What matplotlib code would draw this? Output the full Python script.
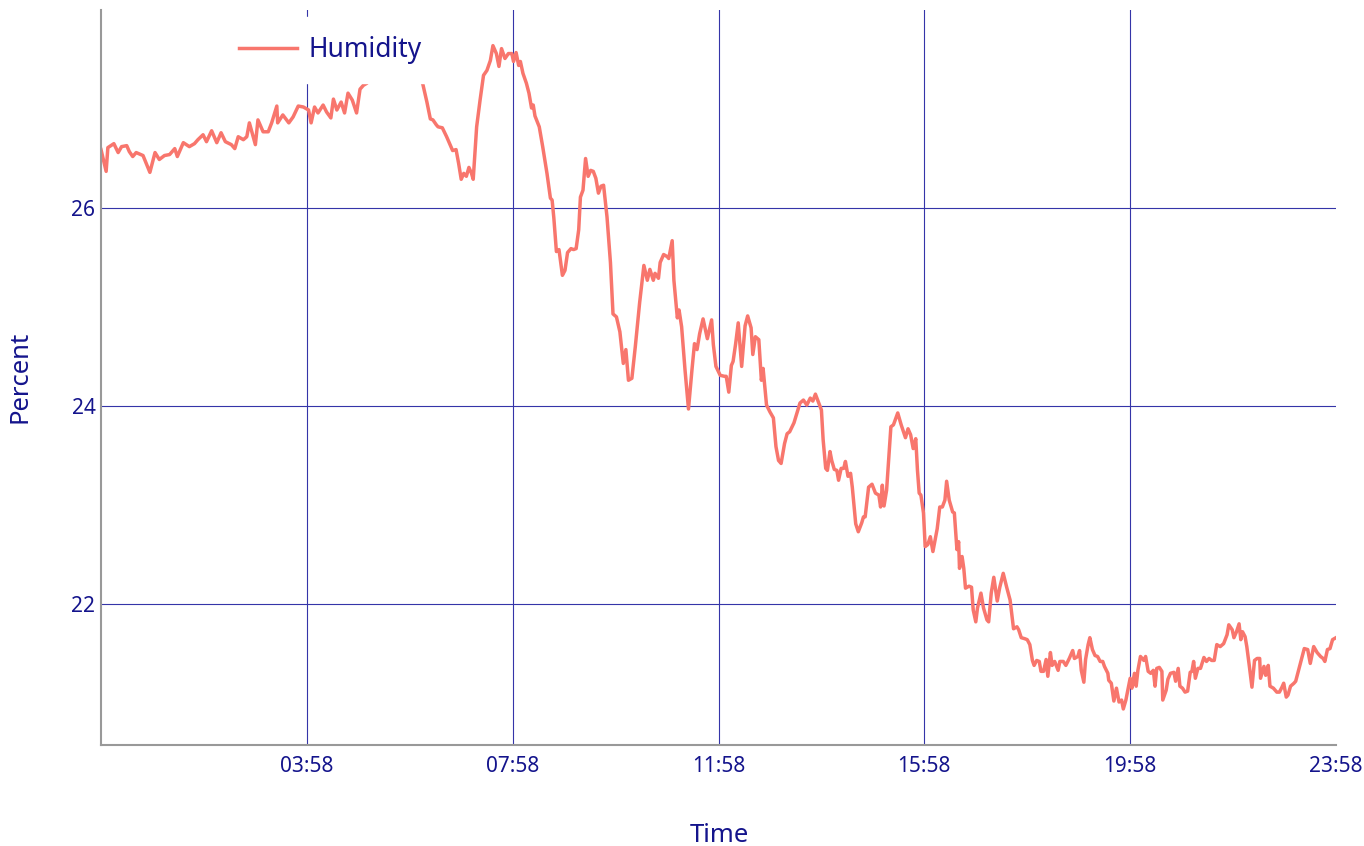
import pandas as pd
import matplotlib
matplotlib.use("Agg")
import matplotlib.pyplot as plt
import matplotlib.dates as mdates

plt.rcParams['font.family'] = ['Noto Sans', 'DejaVu Sans']

# minutes after 23:58 of the previous day
minutes = [
    0, 6, 8, 15, 20, 24, 30, 33, 37, 41,
    49, 57, 63, 68, 74, 80, 86, 89, 96, 103,
    109, 113, 119, 123, 129, 135, 140, 145, 152, 156,
    160, 166, 170, 173, 180, 183, 189, 195, 199, 205,
    206, 212, 219, 224, 230, 236, 242, 245, 249, 253,
    259, 263, 268, 271, 275, 280, 284, 288, 293, 298,
    302, 306, 310, 319, 337, 355, 366, 375, 380, 384,
    387, 391, 393, 398, 403, 407, 410, 414, 417, 420,
    423, 426, 429, 432, 434, 438, 442, 446, 450, 454,
    457, 461, 464, 467, 471, 475, 479, 481, 484, 487,
    489, 492, 496, 499, 502, 504, 506, 511, 515, 520,
    524, 526, 528, 531, 534, 538, 541, 544, 548, 551,
    554, 557, 559, 562, 565, 568, 571, 574, 577, 580,
    583, 586, 590, 594, 597, 601, 605, 609, 612, 615,
    619, 623, 628, 633, 637, 640, 644, 646, 650, 652,
    656, 660, 662, 666, 668, 672, 674, 677, 681, 685,
    689, 692, 695, 698, 702, 707, 712, 714, 717, 722,
    727, 729, 732, 735, 737, 740, 743, 747, 751, 754,
    758, 760, 763, 767, 770, 772, 776, 780, 784, 787,
    790, 793, 797, 800, 803, 808, 815, 819, 823, 827,
    830, 833, 837, 840, 842, 845, 847, 850, 852, 855,
    858, 860, 863, 866, 868, 871, 874, 876, 880, 883,
    887, 889, 891, 895, 899, 903, 907, 909, 911, 913,
    916, 919, 921, 924, 929, 933, 938, 941, 944, 947,
    950, 952, 954, 956, 959, 961, 964, 967, 970, 975,
    978, 981, 984, 986, 989, 993, 995, 998, 1000, 1001,
    1004, 1006, 1008, 1012, 1015, 1017, 1020, 1022, 1026, 1029,
    1033, 1035, 1038, 1041, 1045, 1048, 1052, 1056, 1060, 1064,
    1068, 1070, 1073, 1077, 1080, 1083, 1086, 1088, 1091, 1094,
    1096, 1099, 1102, 1104, 1107, 1109, 1112, 1116, 1118, 1122,
    1125, 1129, 1133, 1135, 1139, 1141, 1143, 1146, 1148, 1151,
    1153, 1156, 1159, 1162, 1165, 1168, 1170, 1174, 1175, 1178,
    1181, 1184, 1187, 1190, 1192, 1195, 1198, 1200, 1202, 1205,
    1207, 1209, 1212, 1216, 1218, 1221, 1224, 1227, 1229, 1231,
    1234, 1237, 1238, 1242, 1244, 1247, 1251, 1253, 1256, 1258,
    1261, 1264, 1267, 1270, 1272, 1274, 1276, 1279, 1282, 1286,
    1289, 1292, 1295, 1298, 1301, 1305, 1309, 1313, 1315, 1319,
    1321, 1324, 1327, 1329, 1331, 1334, 1336, 1339, 1342, 1345,
    1348, 1351, 1352, 1356, 1358, 1361, 1363, 1367, 1371, 1374,
    1377, 1379, 1382, 1384, 1387, 1391, 1393, 1396, 1399, 1403,
    1407, 1410, 1414, 1418, 1422, 1425, 1427, 1430, 1433, 1436,
    1440,
]

humidity = [
    26.59, 26.37, 26.61, 26.65, 26.56, 26.62, 26.63, 26.57, 26.52, 26.56,
    26.53, 26.36, 26.56, 26.49, 26.53, 26.54, 26.60, 26.52, 26.66, 26.62,
    26.65, 26.69, 26.74, 26.67, 26.78, 26.66, 26.76, 26.67, 26.64, 26.60,
    26.72, 26.69, 26.72, 26.86, 26.64, 26.89, 26.77, 26.77, 26.86, 27.03,
    26.86, 26.94, 26.86, 26.92, 27.03, 27.02, 26.99, 26.86, 27.02, 26.96,
    27.04, 26.97, 26.91, 27.10, 26.99, 27.07, 26.96, 27.16, 27.09, 26.96,
    27.20, 27.24, 27.26, 27.38, 27.46, 27.43, 27.34, 27.26, 27.07, 26.90,
    26.89, 26.84, 26.82, 26.81, 26.72, 26.64, 26.58, 26.59, 26.45, 26.29,
    26.35, 26.32, 26.41, 26.35, 26.29, 26.82, 27.09, 27.34, 27.39, 27.49,
    27.64, 27.56, 27.43, 27.61, 27.51, 27.56, 27.56, 27.48, 27.57, 27.44,
    27.48, 27.36, 27.26, 27.16, 27.01, 27.04, 26.93, 26.82, 26.62, 26.35,
    26.10, 26.08, 25.90, 25.56, 25.58, 25.32, 25.37, 25.55, 25.59, 25.58,
    25.59, 25.78, 26.11, 26.18, 26.50, 26.32, 26.38, 26.37, 26.30, 26.15,
    26.22, 26.23, 25.91, 25.45, 24.93, 24.90, 24.75, 24.43, 24.57, 24.26,
    24.28, 24.60, 25.04, 25.42, 25.27, 25.38, 25.27, 25.34, 25.29, 25.45,
    25.53, 25.51, 25.49, 25.67, 25.27, 24.89, 24.97, 24.80, 24.36, 23.97,
    24.36, 24.63, 24.57, 24.73, 24.88, 24.68, 24.87, 24.62, 24.40, 24.31,
    24.30, 24.30, 24.14, 24.41, 24.45, 24.63, 24.84, 24.40, 24.81, 24.91,
    24.79, 24.52, 24.70, 24.67, 24.26, 24.38, 24.01, 23.94, 23.88, 23.59,
    23.45, 23.42, 23.62, 23.72, 23.74, 23.83, 24.03, 24.06, 24.01, 24.08,
    24.05, 24.12, 24.03, 23.96, 23.66, 23.37, 23.35, 23.54, 23.45, 23.36,
    23.35, 23.25, 23.37, 23.37, 23.44, 23.29, 23.32, 23.18, 22.81, 22.73,
    22.82, 22.88, 22.88, 23.18, 23.21, 23.12, 23.10, 22.98, 23.20, 22.99,
    23.15, 23.54, 23.79, 23.81, 23.93, 23.81, 23.68, 23.77, 23.71, 23.57,
    23.67, 23.35, 23.12, 23.10, 22.92, 22.58, 22.60, 22.68, 22.53, 22.76,
    22.98, 22.98, 23.05, 23.24, 23.05, 22.93, 22.92, 22.55, 22.63, 22.36,
    22.48, 22.36, 22.16, 22.18, 22.17, 21.94, 21.82, 21.96, 22.11, 21.96,
    21.84, 21.82, 22.11, 22.27, 22.03, 22.17, 22.31, 22.17, 22.04, 21.75,
    21.77, 21.74, 21.66, 21.65, 21.64, 21.59, 21.43, 21.38, 21.43, 21.42,
    21.32, 21.32, 21.44, 21.27, 21.51, 21.38, 21.42, 21.33, 21.42, 21.42,
    21.38, 21.45, 21.53, 21.45, 21.47, 21.53, 21.33, 21.21, 21.44, 21.59,
    21.66, 21.54, 21.48, 21.47, 21.42, 21.42, 21.37, 21.30, 21.23, 21.20,
    21.02, 21.15, 21.01, 21.03, 20.94, 21.03, 21.16, 21.25, 21.15, 21.30,
    21.17, 21.33, 21.47, 21.43, 21.47, 21.32, 21.30, 21.33, 21.17, 21.35,
    21.36, 21.32, 21.03, 21.13, 21.24, 21.30, 21.31, 21.22, 21.35, 21.17,
    21.15, 21.11, 21.12, 21.31, 21.32, 21.42, 21.25, 21.35, 21.35, 21.46,
    21.42, 21.45, 21.43, 21.43, 21.59, 21.57, 21.60, 21.69, 21.79, 21.74,
    21.66, 21.72, 21.80, 21.64, 21.72, 21.67, 21.57, 21.37, 21.16, 21.43,
    21.45, 21.45, 21.25, 21.37, 21.28, 21.38, 21.17, 21.15, 21.11, 21.11,
    21.16, 21.20, 21.06, 21.08, 21.17, 21.20, 21.22, 21.32, 21.42, 21.55,
    21.54, 21.40, 21.57, 21.51, 21.47, 21.45, 21.42, 21.54, 21.55, 21.64,
    21.66,
]

tick_hours = [4, 8, 12, 16, 20, 24]
y_ticks = [22, 24, 26]

navy = '#14148c'
line_color = '#f8766d'

start = pd.Timestamp('2021-03-14 23:58')
times = start + pd.to_timedelta(minutes, unit='m')

fig = plt.figure(figsize=(13.64, 8.46), dpi=100)
ax = fig.add_axes([101 / 1364, 1 - 745 / 846, 1235 / 1364, 735 / 846])

ax.plot(times, humidity, color=line_color, lw=2.5, label='Humidity',
        solid_joinstyle='round')

ax.set_xlim(start, start + pd.Timedelta(hours=24))
ax.set_ylim(20.576, 28.0)
ax.set_xticks([start + pd.Timedelta(hours=h) for h in tick_hours])
ax.xaxis.set_major_formatter(mdates.DateFormatter('%H:%M'))
ax.set_yticks(y_ticks)

ax.grid(color='#3535a8', lw=0.8)
ax.set_axisbelow(True)
# no grid line on the right edge
ax.get_xgridlines()[-1].set_visible(False)
ax.tick_params(length=0, labelcolor=navy, labelsize=15)
ax.tick_params(axis='x', pad=8)
ax.tick_params(axis='y', pad=4)

for side in ['top', 'right']:
    ax.spines[side].set_visible(False)
for side in ['left', 'bottom']:
    ax.spines[side].set_color('#999999')
    ax.spines[side].set_linewidth(1.5)

fig.text(719 / 1364, 1 - 835 / 846, 'Time', ha='center', va='center',
         fontsize=18.5, color=navy)
fig.text(20 / 1364, 1 - 377 / 846, 'Percent', ha='center', va='center',
         rotation=90, fontsize=18.5, color=navy)

ax.legend(loc='upper left', bbox_to_anchor=(220 / 1364, 1 - 17 / 846),
          bbox_transform=fig.transFigure, frameon=True, facecolor='white',
          edgecolor='white', framealpha=1, fancybox=False, borderpad=0.72,
          handlelength=2.2, handletextpad=0.45, borderaxespad=0,
          fontsize=19, labelcolor=navy)

fig.savefig('out.png', dpi=100)
